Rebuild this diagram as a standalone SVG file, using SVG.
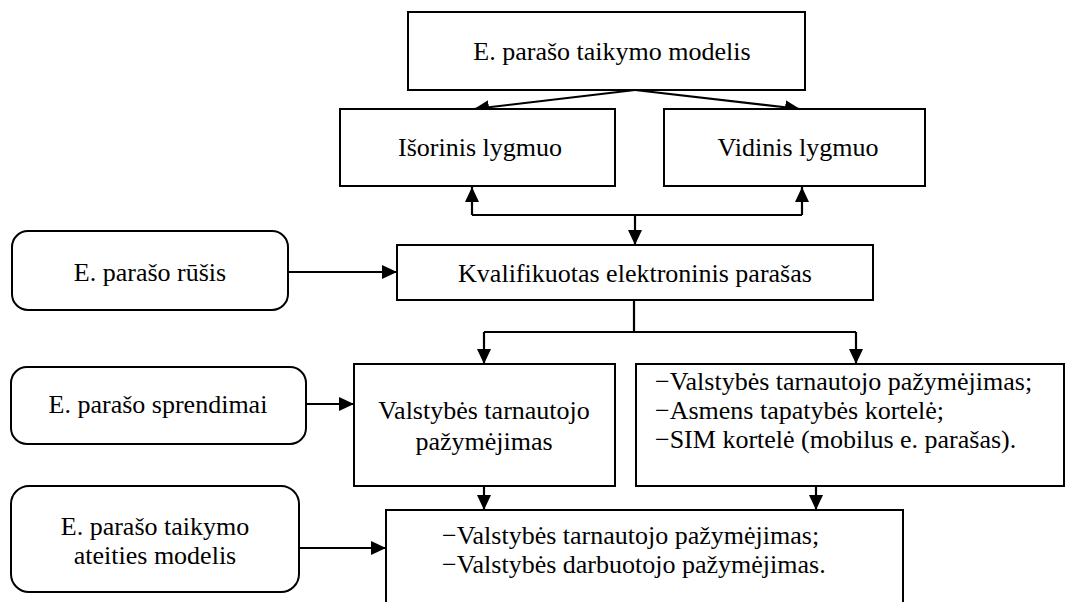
<svg xmlns="http://www.w3.org/2000/svg" width="1066" height="602" viewBox="0 0 1066 602" font-family="Liberation Serif" font-size="26">
  <style>
    .box { fill: #fff; stroke: #000; stroke-width: 2; }
    .lbl { fill: #000; }
    .mid { text-anchor: middle; }
    .wire { fill: none; stroke: #000; stroke-width: 2.2; }
  </style>
  <defs>
    <marker id="arrow" markerUnits="userSpaceOnUse" markerWidth="16" markerHeight="14" refX="15" refY="7" orient="auto">
      <path d="M0,0 L15,7 L0,14 z" fill="#000"/>
    </marker>
  </defs>
  <rect width="1066" height="602" fill="#fff"/>

  <!-- arrows between the boxes -->
  <g id="connectors">
    <path class="wire" d="M635,90 L474,109" marker-end="url(#arrow)"/>
    <path class="wire" d="M635,90 L800,109" marker-end="url(#arrow)"/>
    <path class="wire" d="M472,215 L802,215"/>
    <path class="wire" d="M472,215 L472,187" marker-end="url(#arrow)"/>
    <path class="wire" d="M802,215 L802,187" marker-end="url(#arrow)"/>
    <path class="wire" d="M635,215 L635,245" marker-end="url(#arrow)"/>
    <path class="wire" d="M288,272 L397,272" marker-end="url(#arrow)"/>
    <path class="wire" d="M634,300 L634,332 M484,332 L856,332"/>
    <path class="wire" d="M484,332 L484,364" marker-end="url(#arrow)"/>
    <path class="wire" d="M856,332 L856,364" marker-end="url(#arrow)"/>
    <path class="wire" d="M306,404 L354,404" marker-end="url(#arrow)"/>
    <path class="wire" d="M299,548 L386,548" marker-end="url(#arrow)"/>
    <path class="wire" d="M484,486 L484,510" marker-end="url(#arrow)"/>
    <path class="wire" d="M816,486 L816,510" marker-end="url(#arrow)"/>
  </g>

  <g id="model">
    <rect class="box" x="408" y="12" width="397" height="78"/>
    <text class="lbl mid" x="612" y="60">E. parašo taikymo modelis</text>
  </g>
  <g id="isorinis">
    <rect class="box" x="340" y="109" width="275" height="77"/>
    <text class="lbl mid" x="480" y="156">Išorinis lygmuo</text>
  </g>
  <g id="vidinis">
    <rect class="box" x="664" y="109" width="261" height="77"/>
    <text class="lbl mid" x="798" y="156">Vidinis lygmuo</text>
  </g>
  <g id="rusis">
    <rect class="box" x="12" y="231" width="276" height="79" rx="16"/>
    <text class="lbl mid" x="150" y="281">E. parašo rūšis</text>
  </g>
  <g id="kvalifikuotas">
    <rect class="box" x="397" y="245" width="476" height="55"/>
    <text class="lbl mid" x="635" y="282">Kvalifikuotas elektroninis parašas</text>
  </g>
  <g id="sprendimai">
    <rect class="box" x="11" y="367" width="295" height="77" rx="16"/>
    <text class="lbl mid" x="158" y="413">E. parašo sprendimai</text>
  </g>
  <g id="pazymejimas">
    <rect class="box" x="354" y="364" width="261" height="122"/>
    <text class="lbl mid" x="484" y="419">Valstybės tarnautojo</text>
    <text class="lbl mid" x="484" y="450">pažymėjimas</text>
  </g>
  <g id="priemones">
    <rect class="box" x="636" y="364" width="428" height="122"/>
    <text class="lbl" x="655" y="390">−Valstybės tarnautojo pažymėjimas;</text>
    <text class="lbl" x="655" y="419">−Asmens tapatybės kortelė;</text>
    <text class="lbl" x="655" y="448">−SIM kortelė (mobilus e. parašas).</text>
  </g>
  <g id="ateities">
    <rect class="box" x="11" y="486" width="288" height="106" rx="18"/>
    <text class="lbl mid" x="155" y="535">E. parašo taikymo</text>
    <text class="lbl mid" x="155" y="564">ateities modelis</text>
  </g>
  <g id="ateities-sprendimai">
    <rect class="box" x="386" y="510" width="517" height="100"/>
    <text class="lbl" x="442" y="544">−Valstybės tarnautojo pažymėjimas;</text>
    <text class="lbl" x="442" y="573">−Valstybės darbuotojo pažymėjimas.</text>
  </g>
</svg>
